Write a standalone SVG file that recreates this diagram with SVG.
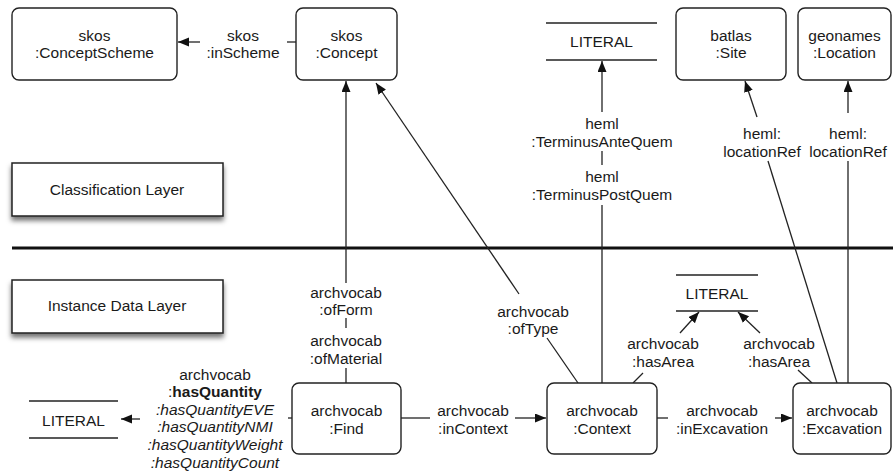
<svg xmlns="http://www.w3.org/2000/svg" width="893" height="472" viewBox="0 0 893 472">
<style>
text{font-family:"Liberation Sans",Arial,sans-serif;font-size:15.5px;fill:#1a1a1a;text-anchor:middle}
.lit{font-size:15.5px}
.node{fill:#fff;stroke:#222;stroke-width:1.4}
.layer{fill:#fff;stroke:#222;stroke-width:1.5}
.ln{stroke:#222;stroke-width:1.3;fill:none}
.arr{stroke:#222;stroke-width:1.3;fill:none;marker-end:url(#ah)}
.b{font-weight:bold}
.i{font-style:italic}
</style>
<defs>
<marker id="ah" markerWidth="12" markerHeight="10" refX="11" refY="4.5" orient="auto" markerUnits="userSpaceOnUse">
<path d="M0,0 L11,4.5 L0,9 z" fill="#111"/>
</marker>
<filter id="sh" x="-10%" y="-20%" width="120%" height="160%">
<feDropShadow dx="0" dy="4" stdDeviation="2.5" flood-color="#000" flood-opacity="0.55"/>
</filter>
</defs>
<rect width="893" height="472" fill="#fff"/>

<g id="layers">
<rect class="layer" x="12" y="163" width="211" height="53" filter="url(#sh)"/>
<text x="117" y="195">Classification Layer</text>
<rect class="layer" x="12" y="280" width="211" height="53" filter="url(#sh)"/>
<text x="117" y="311">Instance Data Layer</text>
<line x1="12" y1="248" x2="893" y2="248" stroke="#111" stroke-width="3"/>
</g>

<g id="connectors">
<!-- inScheme -->
<line class="ln" x1="296" y1="42" x2="287" y2="42"/>
<line class="arr" x1="200" y1="42" x2="178" y2="42"/>
<text x="243" y="41">skos</text>
<text x="243" y="58">:inScheme</text>
<!-- ofForm / ofMaterial -->
<line class="ln" x1="346" y1="383" x2="346" y2="368"/>
<line class="ln" x1="346" y1="328" x2="346" y2="318"/>
<line class="arr" x1="346" y1="283" x2="346" y2="81"/>
<text x="346" y="298">archvocab</text>
<text x="346" y="315">:ofForm</text>
<text x="346" y="346">archvocab</text>
<text x="346" y="364">:ofMaterial</text>
<!-- ofType -->
<line class="ln" x1="578" y1="383" x2="547" y2="338"/>
<line class="arr" x1="519" y1="294" x2="376" y2="83"/>
<text x="533" y="317">archvocab</text>
<text x="533" y="334">:ofType</text>
<!-- Terminus -->
<line class="ln" x1="602" y1="383" x2="602" y2="205"/>
<line class="ln" x1="602" y1="165" x2="602" y2="151"/>
<line class="arr" x1="602" y1="112" x2="602" y2="61"/>
<text x="602" y="129">heml</text>
<text x="602" y="147">:TerminusAnteQuem</text>
<text x="602" y="182">heml</text>
<text x="602" y="200">:TerminusPostQuem</text>
<!-- locationRef batlas -->
<line class="ln" x1="837" y1="383" x2="768" y2="161"/>
<line class="arr" x1="757" y1="117" x2="745" y2="81"/>
<text x="762" y="139">heml:</text>
<text x="762" y="157">locationRef</text>
<!-- locationRef geonames -->
<line class="ln" x1="848" y1="383" x2="848" y2="161"/>
<line class="arr" x1="848" y1="113" x2="848" y2="81"/>
<text x="848" y="139">heml:</text>
<text x="848" y="157">locationRef</text>
<!-- hasArea left -->
<line class="ln" x1="633" y1="383" x2="643" y2="373"/>
<line class="arr" x1="680" y1="333" x2="699" y2="312"/>
<text x="663" y="349">archvocab</text>
<text x="663" y="367">:hasArea</text>
<!-- hasArea right -->
<line class="ln" x1="812" y1="383" x2="798" y2="370"/>
<line class="arr" x1="760" y1="333" x2="738" y2="312"/>
<text x="779" y="349">archvocab</text>
<text x="779" y="367">:hasArea</text>
<!-- inContext -->
<line class="ln" x1="401" y1="418" x2="430" y2="418"/>
<line class="arr" x1="515" y1="418" x2="546" y2="418"/>
<text x="473" y="416">archvocab</text>
<text x="473" y="434">:inContext</text>
<!-- inExcavation -->
<line class="ln" x1="657" y1="418" x2="668" y2="418"/>
<line class="arr" x1="775" y1="418" x2="792" y2="418"/>
<text x="722" y="416">archvocab</text>
<text x="722" y="434">:inExcavation</text>
<!-- hasQuantity -->
<line class="ln" x1="292" y1="418" x2="288" y2="418"/>
<line class="arr" x1="140" y1="419" x2="121" y2="419"/>
<text x="215" y="380">archvocab</text>
<text x="215" y="397"><tspan>:</tspan><tspan class="b">hasQuantity</tspan></text>
<text class="i" x="215" y="415">:hasQuantityEVE</text>
<text class="i" x="215" y="432">:hasQuantityNMI</text>
<text class="i" x="215" y="450">:hasQuantityWeight</text>
<text class="i" x="215" y="468">:hasQuantityCount</text>
</g>

<g id="conceptScheme">
<rect class="node" x="12" y="8" width="165" height="72" rx="7"/>
<text x="94.5" y="41">skos</text>
<text x="94.5" y="58">:ConceptScheme</text>
</g>
<g id="concept">
<rect class="node" x="296" y="8" width="101" height="72" rx="7"/>
<text x="346.5" y="41">skos</text>
<text x="346.5" y="58">:Concept</text>
</g>
<g id="literalTop">
<line class="ln" x1="546" y1="23" x2="657" y2="23"/>
<line class="ln" x1="546" y1="60" x2="657" y2="60"/>
<text class="lit" x="601.5" y="47">LITERAL</text>
</g>
<g id="site">
<rect class="node" x="676" y="8" width="110" height="72" rx="7"/>
<text x="731" y="41">batlas</text>
<text x="731" y="58">:Site</text>
</g>
<g id="location">
<rect class="node" x="798" y="8" width="93" height="72" rx="7"/>
<text x="844.5" y="41">geonames</text>
<text x="844.5" y="58">:Location</text>
</g>
<g id="literalMid">
<line class="ln" x1="676" y1="275" x2="758" y2="275"/>
<line class="ln" x1="676" y1="311" x2="758" y2="311"/>
<text class="lit" x="717" y="299">LITERAL</text>
</g>
<g id="literalLeft">
<line class="ln" x1="29" y1="401" x2="118" y2="401"/>
<line class="ln" x1="29" y1="438" x2="118" y2="438"/>
<text class="lit" x="73.5" y="426">LITERAL</text>
</g>
<g id="find">
<rect class="node" x="292" y="383" width="109" height="71" rx="7"/>
<text x="346.5" y="416">archvocab</text>
<text x="346.5" y="434">:Find</text>
</g>
<g id="context">
<rect class="node" x="547" y="383" width="110" height="71" rx="7"/>
<text x="602" y="416">archvocab</text>
<text x="602" y="434">:Context</text>
</g>
<g id="excavation">
<rect class="node" x="793" y="383" width="98" height="71" rx="7"/>
<text x="842" y="416">archvocab</text>
<text x="842" y="434">:Excavation</text>
</g>
</svg>
